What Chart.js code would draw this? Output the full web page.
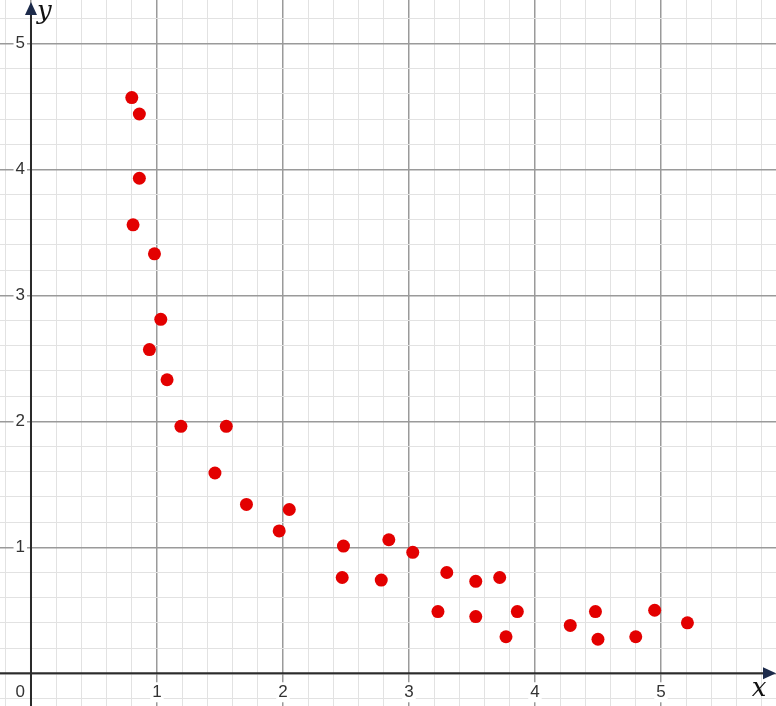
<!DOCTYPE html>
<html>
<head>
<meta charset="utf-8">
<script src="https://cdn.jsdelivr.net/npm/chart.js@4"></script>
<style>
  html, body { margin: 0; padding: 0; background: #fff; }
  #wrap { width: 776px; height: 706px; }
</style>
</head>
<body>
<div id="wrap"><canvas id="chart" width="776" height="706"></canvas></div>
<script>
// Data
var xValues = [0.80, 0.86, 0.86, 0.81, 0.98, 1.03, 0.94, 1.08, 1.19, 1.55,
               1.46, 1.71, 1.97, 2.05, 2.48, 2.47, 2.78, 2.84, 3.03, 3.30,
               3.23, 3.53, 3.53, 3.72, 3.86, 3.77, 4.28, 4.48, 4.50, 4.80,
               4.95, 5.21];
var yValues = [4.57, 4.44, 3.93, 3.56, 3.33, 2.81, 2.57, 2.33, 1.96, 1.96,
               1.59, 1.34, 1.13, 1.30, 1.01, 0.76, 0.74, 1.06, 0.96, 0.80,
               0.49, 0.73, 0.45, 0.76, 0.49, 0.29, 0.38, 0.49, 0.27, 0.29,
               0.50, 0.40];
var xTickLabels = [1, 2, 3, 4, 5];
var yTickLabels = [1, 2, 3, 4, 5];
var originLabel = '0';

var points = xValues.map(function(x, i) { return { x: x, y: yValues[i] }; });

function gridTicks(scale) {
    // minor grid every 0.2 inside the visible window
    var ticks = [];
    var start = Math.ceil(scale.min / 0.2);
    var end = Math.floor(scale.max / 0.2);
    for (var k = start; k <= end; k++) {
        ticks.push({ value: Math.round(k * 0.2 * 10) / 10 });
    }
    scale.ticks = ticks;
}

function noSize(scale) {
    // let the plot fill the whole canvas
    if (scale.isHorizontal()) {
        scale.height = 0;
    } else {
        scale.width = 0;
    }
    scale.paddingLeft = 0;
    scale.paddingRight = 0;
    scale.paddingTop = 0;
    scale.paddingBottom = 0;
}

function gridColor(ctx) {
    var v = ctx.tick ? ctx.tick.value : 0;
    return Math.abs(v - Math.round(v)) < 1e-6 ? '#9a9a9a' : '#e2e2e2';
}

function gridWidth(ctx) {
    var v = ctx.tick ? ctx.tick.value : 0;
    return Math.abs(v - Math.round(v)) < 1e-6 ? 1.5 : 1;
}

var axesPlugin = {
    id: 'geoAxes',
    afterDatasetsDraw: function(chart) {
        var ctx = chart.ctx;
        var xs = chart.scales.x;
        var ys = chart.scales.y;
        var area = chart.chartArea;
        var x0 = xs.getPixelForValue(0);
        var y0 = ys.getPixelForValue(0);

        ctx.save();
        // tick labels with white boxes
        ctx.font = '17px "Liberation Sans", Arial, sans-serif';
        ctx.textBaseline = 'middle';
        xTickLabels.forEach(function(v) {
            var px = xs.getPixelForValue(v);
            var w = ctx.measureText(String(v)).width;
            ctx.fillStyle = '#fff';
            ctx.fillRect(px - w / 2 - 2, y0 + 9, w + 4, 20);
            ctx.fillStyle = '#333';
            ctx.textAlign = 'center';
            ctx.fillText(String(v), px, y0 + 19);
        });
        yTickLabels.forEach(function(v) {
            var py = ys.getPixelForValue(v);
            var w = ctx.measureText(String(v)).width;
            ctx.fillStyle = '#fff';
            ctx.fillRect(x0 - 6 - w - 2, py - 10, w + 4, 20);
            ctx.fillStyle = '#333';
            ctx.textAlign = 'right';
            ctx.fillText(String(v), x0 - 6, py);
        });
        ctx.fillStyle = '#333';
        ctx.textAlign = 'right';
        ctx.fillText(originLabel, x0 - 6, y0 + 19);

        // axes
        ctx.strokeStyle = '#2b2b2b';
        ctx.lineWidth = 2;
        ctx.beginPath();
        ctx.moveTo(area.left, y0);
        ctx.lineTo(area.right - 8, y0);
        ctx.moveTo(x0, area.bottom);
        ctx.lineTo(x0, area.top + 8);
        ctx.stroke();

        // arrow heads
        ctx.fillStyle = '#1c2a4a';
        ctx.beginPath();
        ctx.moveTo(area.right, y0);
        ctx.lineTo(area.right - 13, y0 - 6);
        ctx.lineTo(area.right - 13, y0 + 6);
        ctx.closePath();
        ctx.fill();
        ctx.beginPath();
        ctx.moveTo(x0, area.top + 2);
        ctx.lineTo(x0 - 6, area.top + 15);
        ctx.lineTo(x0 + 6, area.top + 15);
        ctx.closePath();
        ctx.fill();

        // axis names
        ctx.fillStyle = '#111';
        ctx.font = 'italic 26px "DejaVu Serif", "Liberation Serif", serif';
        ctx.textAlign = 'left';
        ctx.fillText('y', x0 + 6, area.top + 12);
        ctx.textAlign = 'center';
        ctx.fillText('x', area.right - 17, y0 + 16);
        ctx.restore();
    }
};

new Chart(document.getElementById('chart').getContext('2d'), {
    type: 'scatter',
    data: {
        datasets: [{
            data: points,
            backgroundColor: '#e30000',
            borderColor: '#e30000',
            borderWidth: 0,
            pointRadius: 6.5,
            pointHoverRadius: 6.5
        }]
    },
    options: {
        responsive: false,
        animation: false,
        layout: { padding: 0, autoPadding: false },
        plugins: {
            legend: { display: false },
            tooltip: { enabled: false }
        },
        scales: {
            x: {
                type: 'linear',
                min: -0.246,
                max: 5.913,
                afterBuildTicks: gridTicks,
                afterFit: noSize,
                ticks: { display: false },
                border: { display: false },
                grid: { color: gridColor, lineWidth: gridWidth, drawTicks: false }
            },
            y: {
                type: 'linear',
                min: -0.26,
                max: 5.345,
                afterBuildTicks: gridTicks,
                afterFit: noSize,
                ticks: { display: false },
                border: { display: false },
                grid: { color: gridColor, lineWidth: gridWidth, drawTicks: false }
            }
        }
    },
    plugins: [axesPlugin]
});
</script>
</body>
</html>
